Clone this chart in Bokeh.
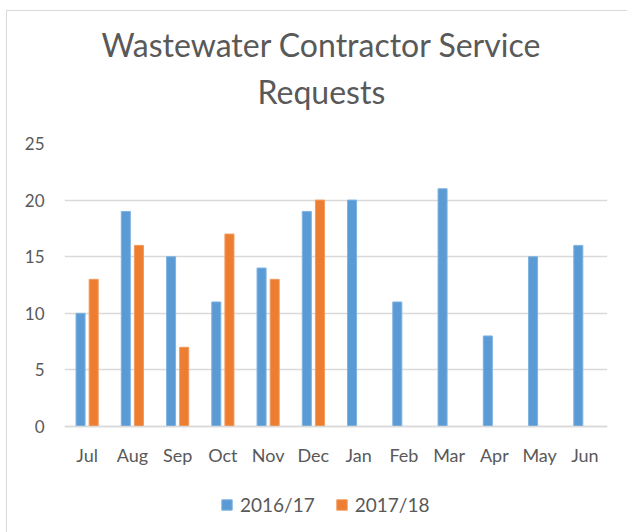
from bokeh.plotting import figure
from bokeh.models import FactorRange, Range1d, Legend, LegendItem, Title, ColumnDataSource, FixedTicker
from bokeh.transform import dodge
from bokeh.embed import file_html
from bokeh.resources import INLINE

months = ["Jul", "Aug", "Sep", "Oct", "Nov", "Dec", "Jan", "Feb", "Mar", "Apr", "May", "Jun"]
requests_2016_17 = [10, 19, 15, 11, 14, 19, 20, 11, 21, 8, 15, 16]
months_2017_18 = ["Jul", "Aug", "Sep", "Oct", "Nov", "Dec"]
requests_2017_18 = [13, 16, 7, 17, 13, 20]
y_ticks = [0, 5, 10, 15, 20, 25]

BLUE = "#5B9BD5"
ORANGE = "#ED7D31"
GRID = "#d9d9d9"
TEXT = "#595959"
FONT = "Lato"

src1 = ColumnDataSource(dict(m=months, v=requests_2016_17))
src2 = ColumnDataSource(dict(m=months_2017_18, v=requests_2017_18))

# frame extends below zero so the x axis (fixed at 0) and legend sit inside it
p = figure(frame_width=543, frame_height=389, x_range=FactorRange(*months, range_padding=0),
           y_range=Range1d(-9.36, 25), output_backend="svg", toolbar_location=None,
           min_border_left=57, min_border_right=20, min_border_top=132, min_border_bottom=0)
p.title.visible = False
p.outline_line_color = None
p.styles = {"margin-left": "6px", "margin-top": "10px",
            "border-top": "1px solid #d9d9d9", "border-left": "1px solid #d9d9d9"}

r1 = p.vbar(x=dodge("m", -0.145, range=p.x_range), top="v", width=0.2, source=src1,
            fill_color=BLUE, line_color="#7fb2e0", line_width=1)
r2 = p.vbar(x=dodge("m", 0.145, range=p.x_range), top="v", width=0.2, source=src2,
            fill_color=ORANGE, line_color="#f29a5e", line_width=1)

t2 = Title(text="Requests", align="left", text_font=FONT, text_font_size="32px",
           text_font_style="normal", text_color=TEXT, standoff=65, offset=193)
t1 = Title(text="Wastewater Contractor Service", align="left", text_font=FONT,
           text_font_size="32px", text_font_style="normal", text_color=TEXT, standoff=-53, offset=37)
p.add_layout(t2, "above")
p.add_layout(t1, "above")

p.yaxis.ticker = FixedTicker(ticks=y_ticks)
p.yaxis.axis_line_color = None
p.yaxis.major_tick_line_color = None
p.yaxis.minor_tick_line_color = None
p.yaxis.major_label_standoff = 14
p.yaxis.major_label_text_font = FONT
p.yaxis.major_label_text_font_size = "17px"
p.yaxis.major_label_text_color = TEXT

p.xaxis.fixed_location = 0
p.xaxis.axis_line_color = GRID
p.xaxis.axis_line_width = 1.3
p.xaxis.major_tick_line_color = None
p.xaxis.minor_tick_line_color = None
p.xaxis.major_label_standoff = 11
p.xaxis.major_label_text_font = FONT
p.xaxis.major_label_text_font_size = "18px"
p.xaxis.major_label_text_color = TEXT

p.xgrid.grid_line_color = None
p.ygrid.grid_line_color = GRID
p.ygrid.grid_line_width = 1.3

legend = Legend(items=[LegendItem(label="2016/17", renderers=[r1]),
                       LegendItem(label="2017/18", renderers=[r2])],
                orientation="horizontal", location=(156, 16),
                glyph_width=13, glyph_height=13, label_height=19, label_text_font=FONT,
                label_text_font_size="19px", label_text_color=TEXT,
                border_line_color=None, background_fill_alpha=0, spacing=20, label_standoff=7,
                margin=0, padding=6)
p.add_layout(legend)

open("out.html", "w").write(file_html(p, INLINE))
